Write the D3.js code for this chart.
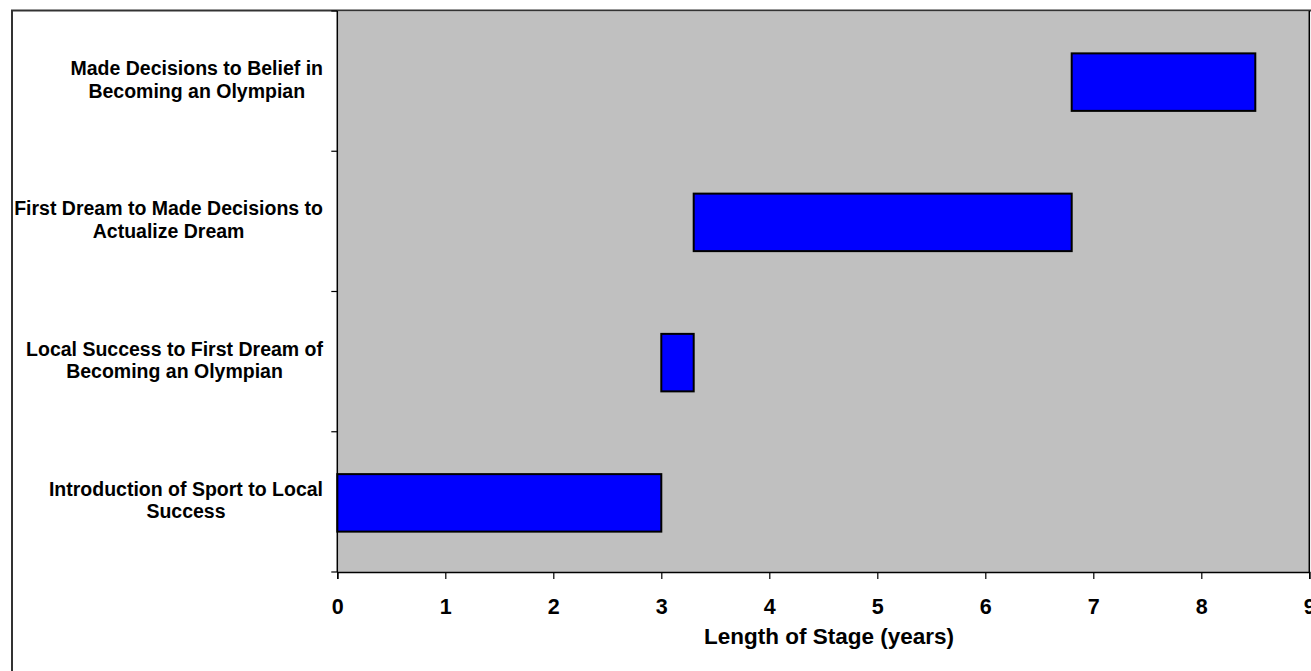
<!DOCTYPE html>
<html><head><meta charset="utf-8">
<script src="https://cdn.jsdelivr.net/npm/d3@7"></script>
<style>body{margin:0;background:#fff;overflow:hidden}text{font-family:"Liberation Sans",Arial,sans-serif;font-weight:bold;fill:#000}</style>
</head><body><svg id="c" width="1311" height="671"></svg>
<script>
const categories = [
  ["Introduction of Sport to Local", "Success"],
  ["Local Success to First Dream of", "Becoming an Olympian"],
  ["First Dream to Made Decisions to", "Actualize Dream"],
  ["Made Decisions to Belief in", "Becoming an Olympian"]
];
const stageStart = [0, 3.0, 3.3, 6.8];
const stageLength = [3.0, 0.3, 3.5, 1.7];
const xTicks = [0, 1, 2, 3, 4, 5, 6, 7, 8, 9];
const xTitle = "Length of Stage (years)";

const svg = d3.select("#c");
const L = 337.3, R = 1309.3, T = 11, B = 572;

// outer frame
svg.append("rect").attr("x", 12).attr("y", 10.5).attr("width", 1400).attr("height", 800)
  .attr("fill", "#fff").attr("stroke", "#333").attr("stroke-width", 2);

const x = d3.scaleLinear().domain([0, 9]).range([L, R]);
const idx = categories.map((d, i) => i);
const y = d3.scaleBand().domain(idx.slice().reverse()).range([T, B])
  .paddingInner(0.59).paddingOuter(0.295);

// plot area
svg.append("rect").attr("x", L).attr("y", T + 0.5).attr("width", R - L).attr("height", B - T - 0.5)
  .attr("fill", "#C0C0C0");
svg.append("line").attr("x1", R).attr("x2", R).attr("y1", T).attr("y2", B)
  .attr("stroke", "#000").attr("stroke-width", 1.5);

// bars
svg.append("g").selectAll("rect").data(idx).join("rect")
  .attr("x", i => x(stageStart[i]))
  .attr("y", i => y(i) + 1)
  .attr("width", i => x(stageStart[i] + stageLength[i]) - x(stageStart[i]))
  .attr("height", y.bandwidth())
  .attr("fill", "#0000FF").attr("stroke", "#000").attr("stroke-width", 2);

// x axis
const xa = svg.append("g").attr("transform", `translate(0,${B})`)
  .call(d3.axisBottom(x).tickValues(xTicks).tickFormat(d3.format("d")).tickSize(7).tickPadding(20));
xa.select(".domain").attr("stroke", "#000").attr("stroke-width", 1.5);
xa.selectAll(".tick line").attr("stroke", "#000").attr("stroke-width", 1.2);
xa.selectAll("text").attr("font-size", 21.5).attr("fill", "#000")
  .style("font-family", '"Liberation Sans",Arial,sans-serif').style("font-weight", "bold");

// y axis line and ticks at band edges
const ya = svg.append("g");
ya.append("line").attr("x1", L).attr("x2", L).attr("y1", T).attr("y2", B)
  .attr("stroke", "#000").attr("stroke-width", 1.5);
const step = y.step();
ya.selectAll("line.t").data(d3.range(idx.length + 1)).join("line").attr("class", "t")
  .attr("x1", L - 6).attr("x2", L)
  .attr("y1", k => T + k * step).attr("y2", k => T + k * step)
  .attr("stroke", "#000").attr("stroke-width", 1.2);

// category labels (wrapped, block right-aligned, lines centered in block)
const labelRight = 323;
idx.forEach(i => {
  const cy = y(i) + y.bandwidth() / 2;
  const g = svg.append("g");
  const ts = categories[i].map((line, j) =>
    g.append("text").attr("font-size", 19.5).attr("y", cy - 6 + j * 22.5).text(line));
  const widths = ts.map(t => t.node().getComputedTextLength());
  const w = Math.max(...widths);
  const cx = labelRight - w / 2;
  ts.forEach(t => t.attr("x", cx).attr("text-anchor", "middle"));
});

// x title
svg.append("text").attr("x", 829).attr("y", 644).attr("text-anchor", "middle")
  .attr("font-size", 22.5).text(xTitle);
</script></body></html>
